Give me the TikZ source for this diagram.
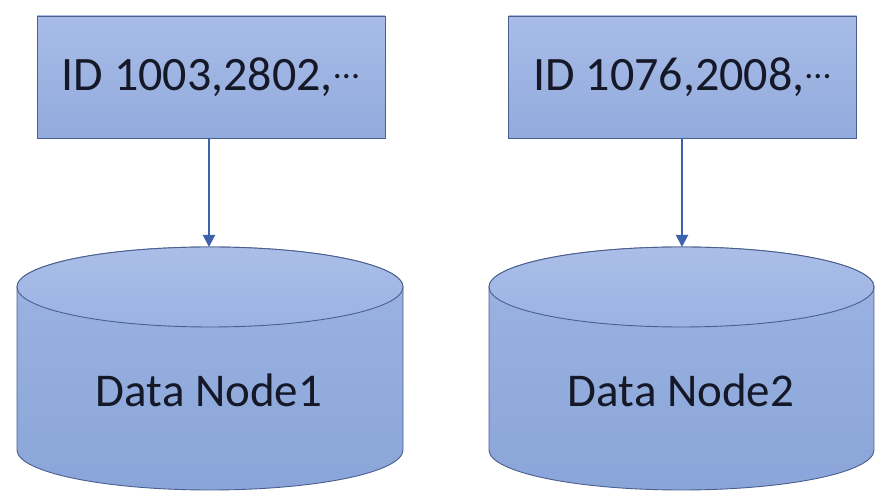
\documentclass[tikz,border=0pt]{standalone}
\usepackage{fontspec}
\setmainfont{Carlito}
\usetikzlibrary{arrows.meta}
\definecolor{boxTop}{HTML}{A8BCE7}
\definecolor{boxBot}{HTML}{92ABDD}
\definecolor{bodyTop}{HTML}{9DB4E3}
\definecolor{bodyBot}{HTML}{8AA5D9}
\definecolor{capTop}{HTML}{AABEE8}
\definecolor{capBot}{HTML}{9CB2E2}
\definecolor{edgec}{HTML}{4A5F8E}
\definecolor{arrowc}{HTML}{3F62AC}
\definecolor{txtc}{HTML}{151826}
\newcommand{\middots}{\raisebox{12pt}{\fontsize{36}{36}\selectfont ...}}
\tikzset{
  idbox/.style={draw=edgec, line width=0.9pt, top color=boxTop, bottom color=boxBot,
    minimum width=348pt, minimum height=122pt, inner sep=0pt,
    font=\fontsize{48}{50}\selectfont, text=txtc},
  dnlabel/.style={font=\fontsize{47}{50}\selectfont, text=txtc, inner sep=0pt},
  arr/.style={draw=arrowc, line width=2pt, -{Triangle[width=12pt,length=12pt]}},
  cylbody/.style={draw=edgec, line width=0.9pt, top color=bodyTop, bottom color=bodyBot},
  cylcap/.style={draw=edgec, line width=0.9pt, top color=capTop, bottom color=capBot}
}
\newcommand{\dbcyl}[2]{%
  \path[cylbody] ({#1-#2},215) -- ({#1-#2},52)
    arc[start angle=180,end angle=360,x radius=#2pt,y radius=40pt]
    -- ({#1+#2},215)
    arc[start angle=0,end angle=180,x radius=#2pt,y radius=40pt] -- cycle;
  \path[cylcap] (#1,215) ellipse[x radius=#2pt,y radius=40pt];
}
\begin{document}
\begin{tikzpicture}[x=1pt,y=1pt]
\useasboundingbox (0,0) rectangle (888,502);
\fill[white] (0,0) rectangle (888,502);
\dbcyl{210}{193}
\dbcyl{681.5}{192.5}
\node[idbox] (b1) at (211,425) {ID 1003,2802,\middots};
\node[idbox] (b2) at (682.5,425) {ID 1076,2008,\middots};
\node[dnlabel] (d1) at (209,112) {Data Node1};
\node[dnlabel] (d2) at (681,112) {Data Node2};
\coordinate (t1) at (209,255);
\coordinate (t2) at (682,255);
\draw[arr] (b1.south -| t1) -- (t1);
\draw[arr] (b2.south -| t2) -- (t2);
\end{tikzpicture}
\end{document}
